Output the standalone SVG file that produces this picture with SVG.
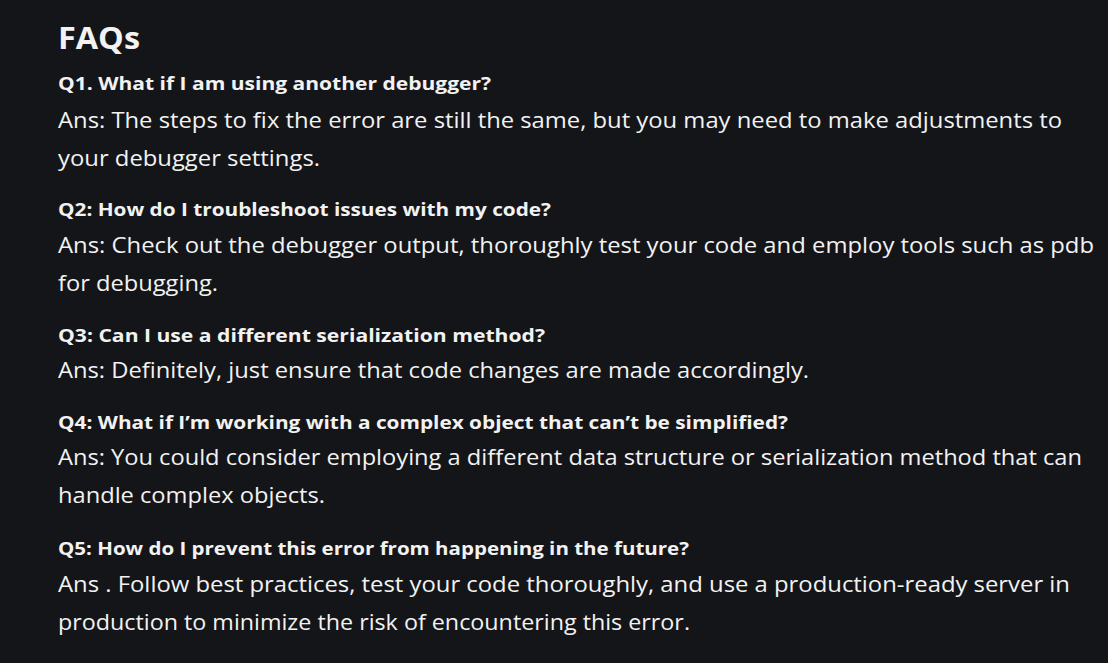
<svg xmlns="http://www.w3.org/2000/svg" width="1108" height="663" viewBox="0 0 1108 663">
<style>
text{fill:#f2f2f2;font-family:"Open Sans","Noto Sans","Liberation Sans",sans-serif}
.h{font-size:31px;font-weight:700}
.q{font-size:18.5px;font-weight:700}
.a{font-size:21.5px;font-weight:400}
</style>
<rect width="1108" height="663" fill="#141519"/>
<g id="title"><text class="h" x="58" y="49" textLength="82" lengthAdjust="spacingAndGlyphs">FAQs</text></g>
<g id="faq1">
<text class="q" x="58" y="90" textLength="433" lengthAdjust="spacingAndGlyphs">Q1. What if I am using another debugger?</text>
<text class="a" x="58" y="128" textLength="1004" lengthAdjust="spacingAndGlyphs">Ans: The steps to fix the error are still the same, but you may need to make adjustments to</text>
<text class="a" x="58" y="166" textLength="262" lengthAdjust="spacingAndGlyphs">your debugger settings.</text>
</g>
<g id="faq2">
<text class="q" x="58" y="216" textLength="493" lengthAdjust="spacingAndGlyphs">Q2: How do I troubleshoot issues with my code?</text>
<text class="a" x="58" y="253" textLength="1036" lengthAdjust="spacingAndGlyphs">Ans: Check out the debugger output, thoroughly test your code and employ tools such as pdb</text>
<text class="a" x="58" y="291" textLength="160" lengthAdjust="spacingAndGlyphs">for debugging.</text>
</g>
<g id="faq3">
<text class="q" x="58" y="342" textLength="487" lengthAdjust="spacingAndGlyphs">Q3: Can I use a different serialization method?</text>
<text class="a" x="58" y="378" textLength="751" lengthAdjust="spacingAndGlyphs">Ans: Definitely, just ensure that code changes are made accordingly.</text>
</g>
<g id="faq4">
<text class="q" x="58" y="429" textLength="730" lengthAdjust="spacingAndGlyphs">Q4: What if I’m working with a complex object that can’t be simplified?</text>
<text class="a" x="58" y="465" textLength="1024" lengthAdjust="spacingAndGlyphs">Ans: You could consider employing a different data structure or serialization method that can</text>
<text class="a" x="58" y="503" textLength="267" lengthAdjust="spacingAndGlyphs">handle complex objects.</text>
</g>
<g id="faq5">
<text class="q" x="58" y="555" textLength="631" lengthAdjust="spacingAndGlyphs">Q5: How do I prevent this error from happening in the future?</text>
<text class="a" x="58" y="592" textLength="1012" lengthAdjust="spacingAndGlyphs">Ans . Follow best practices, test your code thoroughly, and use a production-ready server in</text>
<text class="a" x="58" y="630" textLength="632" lengthAdjust="spacingAndGlyphs">production to minimize the risk of encountering this error.</text>
</g>
</svg>
